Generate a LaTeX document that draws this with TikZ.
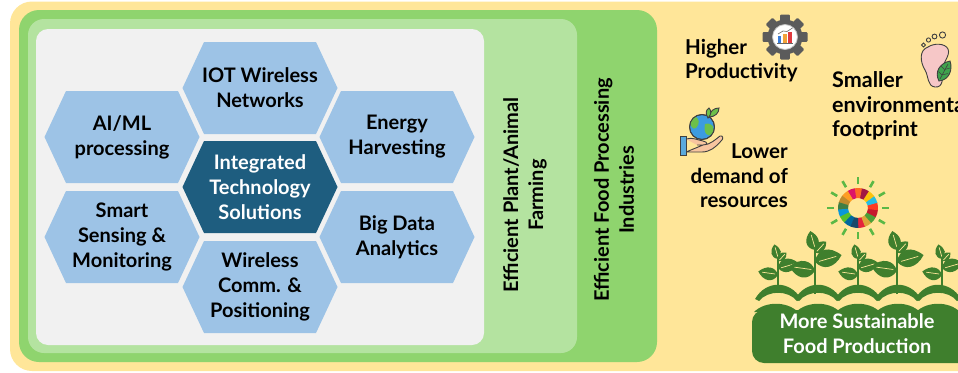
\documentclass[tikz,border=0pt]{standalone}
\usepackage{fontspec}
\setmainfont{Lato}
\usetikzlibrary{calc}

% palette
\definecolor{bgyellow}{HTML}{FFE699}
\definecolor{frameouter}{HTML}{8FD46E}
\definecolor{frameinner}{HTML}{B4E3A0}
\definecolor{panelgrey}{HTML}{F1F1F1}
\definecolor{hexlight}{HTML}{9DC3E6}
\definecolor{hexdark}{HTML}{1E5D7F}
\definecolor{plantgreen}{HTML}{3F7F2D}
\definecolor{gearbody}{HTML}{5B5B5B}
\definecolor{footpink}{HTML}{F6C7C7}
\definecolor{leafbright}{HTML}{3FA34D}
\definecolor{globeblue}{HTML}{3C9BE0}
\definecolor{globegreen}{HTML}{6CC04A}
\definecolor{cuffblue}{HTML}{5AA9DC}
\definecolor{skin}{HTML}{F7C59F}
\definecolor{raygreen}{HTML}{5BB846}
\definecolor{barblue}{HTML}{3A7DD8}
\definecolor{barorange}{HTML}{F2A33A}
\definecolor{barred}{HTML}{E0393E}
% goal wheel colours
\definecolor{sdg1}{HTML}{E5243B}
\definecolor{sdg2}{HTML}{DDA63A}
\definecolor{sdg3}{HTML}{4C9F38}
\definecolor{sdg4}{HTML}{C5192D}
\definecolor{sdg5}{HTML}{FF3A21}
\definecolor{sdg6}{HTML}{26BDE2}
\definecolor{sdg7}{HTML}{FCC30B}
\definecolor{sdg8}{HTML}{A21942}
\definecolor{sdg9}{HTML}{FD6925}
\definecolor{sdg10}{HTML}{DD1367}
\definecolor{sdg11}{HTML}{FD9D24}
\definecolor{sdg12}{HTML}{BF8B2E}
\definecolor{sdg13}{HTML}{3F7E44}
\definecolor{sdg14}{HTML}{0A97D9}
\definecolor{sdg15}{HTML}{56C02B}
\definecolor{sdg16}{HTML}{00689D}
\definecolor{sdg17}{HTML}{19486A}

\tikzset{
  cell text/.style={font=\bfseries\fontsize{20}{25}\selectfont, align=center, inner sep=0pt},
  side text/.style={font=\bfseries\fontsize{20.5}{24.5}\selectfont, inner sep=0pt},
  icon line/.style={draw=black!75, line width=0.9pt},
}

% flat-topped hexagon with a centred label
\newcommand\hexcell[6]{%
  \fill[#4] (#2-77.5,#3) -- (#2-56,#3-46) -- (#2+56,#3-46) -- (#2+77.5,#3)
            -- (#2+56,#3+46) -- (#2-56,#3+46) -- cycle;
  \node[cell text, text=#5] (#1) at (#2,#3) {#6};
}

% pointed leaf with a light midrib: x, y, angle, length
\newcommand\leafshape[4]{%
  \begin{scope}[shift={(#1,#2)}, rotate=#3, scale=#4/20]
    \fill[plantgreen] (0,0) .. controls (4,-9) and (13,-9) .. (20,0)
                            .. controls (13,8) and (4,8) .. cycle;
    \draw[bgyellow, line width=0.7pt] (3,0.5) -- (16,0);
  \end{scope}}

% seedling standing on the ground: x, ground y, size
\newcommand\seedling[3]{%
  \begin{scope}[shift={(#1,#2)}, scale=#3]
    \draw[plantgreen, line width=2.6pt] (0,4) -- (0,-31);
    \leafshape{0}{-14}{170}{20}
    \leafshape{0}{-21}{14}{21}
    \leafshape{0}{-30}{104}{15}
    \leafshape{0}{-28}{45}{12}
  \end{scope}}

\begin{document}
\begin{tikzpicture}[x=1pt, y=-1pt]
\useasboundingbox (0,0) rectangle (958,372);

% nested background panels
\fill[bgyellow, rounded corners=22] (10,1.5) rectangle (1000,371);
\fill[frameouter, rounded corners=20] (19,10) rectangle (657,362);
\fill[frameinner, rounded corners=16] (28,19) rectangle (577,353);
\fill[panelgrey, rounded corners=12] (36,29) rectangle (484,345);

% technology hexagons
\hexcell{iot}{260}{88}{hexlight}{black}{IOT Wireless\\Networks}
\hexcell{core}{260}{187}{hexdark}{white}{Integrated\\Technology\\Solutions}
\hexcell{comm}{260}{287}{hexlight}{black}{Wireless\\Comm. \&\\Positioning}
\hexcell{aiml}{122}{137}{hexlight}{black}{AI/ML\\processing}
\hexcell{sensing}{122}{237}{hexlight}{black}{Smart\\Sensing \&\\Monitoring}
\hexcell{energy}{397}{137}{hexlight}{black}{Energy\\Harvesting}
\hexcell{bigdata}{397}{237}{hexlight}{black}{Big Data\\Analytics}

% vertical frame labels
\node[cell text, rotate=90] (farming) at (525,195) {Efficient Plant/Animal\\Farming};
\node[cell text, rotate=90] (industry) at (614,190) {Efficient Food Processing\\Industries};

% benefit labels
\node[side text, align=left, anchor=west] (productivity) at (685,60.5) {Higher\\Productivity};
\node[side text, align=left, anchor=west, font=\bfseries\fontsize{21.5}{24.5}\selectfont] (footprint) at (832,106) {Smaller\\environmental\\footprint};
\node[side text, align=right, anchor=east] (resources) at (788,176) {Lower\\demand of\\resources};

% gear with bar chart
\begin{scope}[shift={(785,37)}]
  \foreach \a in {0,45,...,315}
    \fill[gearbody, rotate=\a, rounded corners=1pt] (-4.8,-22.5) rectangle (4.8,-12);
  \fill[gearbody] (0,0) circle (17.5);
  \fill[white] (0,0) circle (12.5);
  \draw[black!25, line width=0.8pt] (0,0) circle (12.5);
  \fill[barblue] (-7,6) rectangle (-3.6,-1);
  \fill[barorange] (-1.8,6) rectangle (1.6,-3.5);
  \fill[barred] (3.4,6) rectangle (6.8,-5);
  \draw[black!60, line width=0.5pt] (-8,6.3) -- (8,6.3);
  \draw[black!60, line width=0.6pt] (-7,-3) -- (-2,-6) -- (2,-5.5) -- (7.5,-9);
\end{scope}

% footprint with leaf
\filldraw[fill=footpink, icon line] (928,47) .. controls (919,50) and (920,62) .. (925,70)
  .. controls (929,77) and (927,86) .. (935,87) .. controls (943,88) and (943,78) .. (942,72)
  .. controls (941,64) and (951,56) .. (948,49) .. controls (945,43) and (934,43) .. cycle;
\draw[icon line] (923.5,45) circle (1.9);
\draw[icon line] (928.5,40) circle (2.1);
\draw[icon line] (934.5,36.5) circle (2.4);
\draw[icon line] (942.5,35) circle (3.1);
\filldraw[fill=leafbright, icon line] (939,81) .. controls (934,72) and (940,63) .. (950,61)
  .. controls (953,70) and (949,80) .. cycle;
\draw[black!75, line width=0.6pt] (940,79) -- (948,64);
\draw[black!75, line width=0.5pt] (942,75) -- (938.5,71.5) (942,75) -- (948,73.5)
  (944.5,69.5) -- (941,66) (944.5,69.5) -- (950,68);

% globe held in a hand
\filldraw[fill=globeblue, icon line] (702,127) circle (12.5);
\begin{scope}
  \clip (702,127) circle (12.5);
  \fill[globegreen] (694,116) .. controls (700,118) and (700,124) .. (696,128)
    .. controls (692,131) and (690,124) .. (690,120) -- cycle;
  \fill[globegreen] (705,124) .. controls (712,122) and (716,128) .. (712,134)
    .. controls (708,138) and (703,133) .. cycle;
\end{scope}
\draw[icon line] (702,127) circle (12.5);
\filldraw[fill=globegreen, icon line] (709,117) .. controls (710,111) and (714,108) .. (719,108)
  .. controls (719,113) and (715,117) .. cycle;
\filldraw[fill=globegreen, icon line] (708,118) .. controls (705,113) and (706,110) .. (709,108)
  .. controls (712,111) and (711,115) .. cycle;
\filldraw[fill=skin, icon line] (686,139) .. controls (693,137) and (697,140) .. (703,141)
  .. controls (708,142) and (708,145) .. (703,145) -- (697,145)
  (703,145) .. controls (710,145) and (716,139) .. (720,136)
  .. controls (723,135) and (724,139) .. (721,141) .. controls (716,147) and (710,152) .. (702,152)
  -- (686,152) -- cycle;
\filldraw[fill=cuffblue, icon line] (680,136) rectangle (686,155);

% goal wheel with rays
\begin{scope}[shift={(858,208)}]
  \foreach \i in {1,...,17} {
    \pgfmathsetmacro\sa{90-(\i-1)*360/17+0.8}
    \pgfmathsetmacro\ea{90-\i*360/17-0.8}
    \fill[sdg\i] (\sa:10) -- (\sa:20) arc[start angle=\sa, end angle=\ea, radius=20]
      -- (\ea:10) arc[start angle=\ea, end angle=\sa, radius=10] -- cycle;
  }
  \foreach \a in {0,30,...,330}
    \draw[raygreen, line width=2.6pt] (\a:24) -- (\a:31);
\end{scope}

% seedlings over the soil
\seedling{778}{289}{1}
\seedling{815}{289}{1.3}
\seedling{858}{289}{1}
\seedling{897}{289}{1.3}
\seedling{942}{289}{1}
\foreach \cx in {778,818,858,898,938}
  \fill[plantgreen] (\cx-23,299) .. controls (\cx-12,280) and (\cx+12,280) .. (\cx+23,299)
    -- (\cx+19,301) .. controls (\cx+10,290) and (\cx-10,290) .. (\cx-19,301) -- cycle;

% result banner with a rolling top edge
\fill[plantgreen, rounded corners=12] (752,310) rectangle (990,363);
\foreach \cx in {776,818,858,898,938}
  \fill[plantgreen] (\cx-22,312) .. controls (\cx-11,301) and (\cx+11,301) .. (\cx+22,312) -- cycle;
\node[cell text, text=white] (sustainable) at (857,334) {More Sustainable\\Food Production};
\end{tikzpicture}
\end{document}
